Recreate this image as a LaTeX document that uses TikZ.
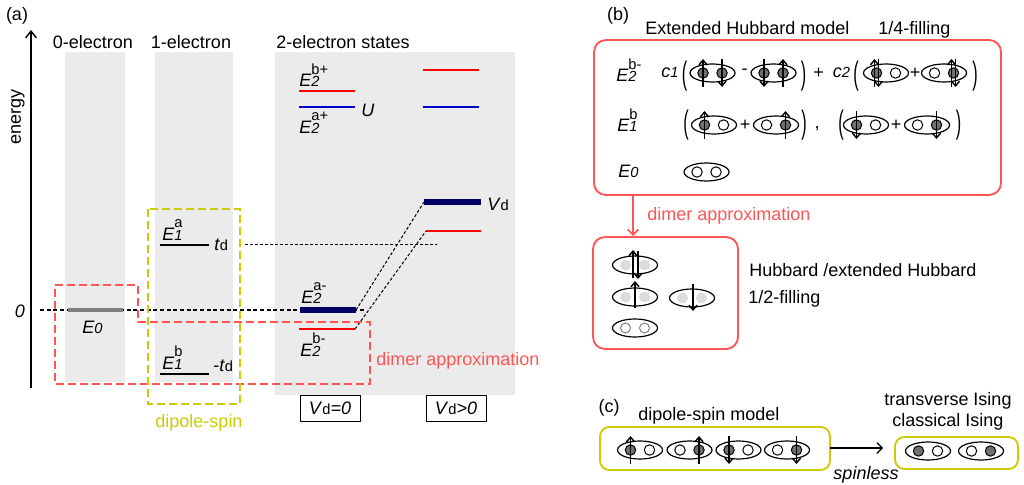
\documentclass[tikz,border=0pt]{standalone}
\usepackage{fontspec}
\usepackage{graphicx}
\setmainfont{Liberation Sans}
\usetikzlibrary{arrows.meta}

\definecolor{bandgray}{RGB}{235,235,235}
\definecolor{dimred}{RGB}{255,85,85}
\definecolor{dipyellow}{RGB}{204,204,0}
\definecolor{levred}{RGB}{255,0,0}
\definecolor{levblue}{RGB}{0,0,200}
\definecolor{levnavy}{RGB}{0,0,100}
\definecolor{dotgray}{RGB}{112,112,112}
\definecolor{palegray}{RGB}{220,220,220}

\newcommand{\smallfs}{\fontsize{11}{13}\selectfont}
\newcommand{\lv}[3]{\textit{#1}\rlap{\smallfs\itshape #2}\raisebox{9.5pt}{\smallfs #3}}
\newcommand{\sd}[1]{\textit{#1}{\smallfs d}}
\newcommand{\bigpar}[1]{\scalebox{0.9}[1.8]{#1}}

\newcommand{\siteE}[1]{\draw[line width=0.75pt,fill=white] (#1,0) circle (5.2);}
\newcommand{\siteF}[1]{\draw[line width=0.75pt,fill=dotgray] (#1,0) circle (5.2);}
\newcommand{\siteU}[1]{\siteF{#1}\draw[spin] (#1,14) -- (#1,-14);}
\newcommand{\siteD}[1]{\siteF{#1}\draw[spin] (#1,-14) -- (#1,14);}
\newcommand{\siteUD}[1]{\siteF{#1}\draw[spin] (#1-2,14) -- (#1-2,-14);\draw[spin] (#1+2,-14) -- (#1+2,14);}
\newcommand{\siteP}[1]{\fill[palegray] (#1,0) circle (5.5);}
\newcommand{\siteO}[1]{\draw[gray,line width=0.75pt,fill=white] (#1,0) circle (5);}
\newcommand{\dimer}[3]{\begin{scope}[shift={(#1)}]
\draw[pairline,fill=white] (0,0) ellipse (22.5 and 9);
#2{-9.5}#3{9.5}
\end{scope}}

\begin{document}
\begin{tikzpicture}[x=0.75pt,y=-0.75pt,font=\fontsize{13.5}{16}\selectfont,
  every node/.style={inner sep=0pt},
  band/.style={fill=bandgray},
  lvl/.style={line width=1.5pt},
  bar/.style={line width=4pt},
  guide/.style={line width=0.75pt,dash pattern=on 2.25pt off 1.5pt},
  zeroline/.style={line width=1.5pt,dash pattern=on 3pt off 2pt},
  dimbox/.style={draw=dimred,line width=1.5pt,dash pattern=on 6pt off 3pt},
  dipbox/.style={draw=dipyellow,line width=1.5pt,dash pattern=on 6pt off 3pt},
  vbox/.style={draw,line width=0.75pt,minimum width=45pt,minimum height=20pt},
  pairline/.style={line width=0.9pt},
  spin/.style={line width=1.1pt,-{Straight Barb[length=3.5pt,width=6pt]}},
  redbox/.style={draw=dimred,line width=1.4pt,rounded corners=9pt},
  ylwbox/.style={draw=dipyellow,line width=1.4pt,rounded corners=7pt}]
\useasboundingbox (0,0) rectangle (1024,485);

\node[anchor=base] (laba) at (17,21) {(a)};
\fill[band] (65,52) rectangle (125,382);
\fill[band] (155,52) rectangle (233,382);
\fill[band] (275,52) rectangle (515,395);
\node[anchor=base] (ttl0) at (93,49) {0-electron};
\node[anchor=base] (ttl1) at (191,49) {1-electron};
\node[anchor=base] (ttl2) at (343,49) {2-electron states};
\coordinate (axbot) at (31,388);
\coordinate (axtop) at (31,30);
\draw[line width=1.1pt,-{Straight Barb[length=5pt,width=8pt]}] (axbot) -- (axtop);
\node[rotate=90] (energy) at (18,117) {energy};
\node[anchor=base] (zero) at (20,317) {\textit{0}};

\coordinate (z0) at (40,310);
\coordinate (z1) at (364,310);
\draw[zeroline] (z0) -- (z1);
\coordinate (e0l) at (68,310);
\coordinate (e0r) at (123,310);
\draw[line width=3pt,gray] (e0l) -- (e0r);
\coordinate (a1l) at (160,245);
\coordinate (a1r) at (209,245);
\coordinate (b1l) at (160,374);
\coordinate (b1r) at (209,374);
\draw[lvl] (a1l) -- (a1r);
\draw[lvl] (b1l) -- (b1r);
\coordinate (tdl) at (245,244);
\coordinate (tdr) at (437,244);
\draw[guide] (tdl) -- (tdr);

\coordinate (bpl) at (299,91);
\coordinate (bpr) at (355,91);
\coordinate (apl) at (299,107);
\coordinate (apr) at (355,107);
\coordinate (aml) at (300,310);
\coordinate (amr) at (356,310);
\coordinate (bml) at (299,329);
\coordinate (bmr) at (355,329);
\draw[lvl,levred] (bpl) -- (bpr);
\draw[lvl,levblue] (apl) -- (apr);
\draw[bar,levnavy] (aml) -- (amr);
\draw[lvl,levred] (bml) -- (bmr);
\coordinate (bpl') at (423,70);
\coordinate (bpr') at (479,70);
\coordinate (apl') at (423,107);
\coordinate (apr') at (479,107);
\coordinate (aml') at (424,202);
\coordinate (amr') at (481,202);
\coordinate (bml') at (426,231);
\coordinate (bmr') at (481,231);
\draw[lvl,levred] (bpl') -- (bpr');
\draw[lvl,levblue] (apl') -- (apr');
\draw[bar,levnavy] (aml') -- (amr');
\draw[lvl,levred] (bml') -- (bmr');
\draw[guide] (amr) -- (aml');
\draw[guide] (bmr) -- (bml');

\node[anchor=base west] (lb2p) at (299,87) {\lv{E}{2}{b+}};
\node[anchor=base west] (la2p) at (299,133) {\lv{E}{2}{a+}};
\node[anchor=base west] (lU) at (361,117) {\textit{U}};
\node[anchor=base west] (la2m) at (301,303) {\lv{E}{2}{a-}};
\node[anchor=base west] (lb2m) at (300,356) {\lv{E}{2}{b-}};
\node[anchor=base west] (lvd) at (487,210) {\sd{V}};
\node[anchor=base west] (la1) at (162,240) {\lv{E}{1}{a}};
\node[anchor=base west] (lb1) at (162,369) {\lv{E}{1}{b}};
\node[anchor=base west] (lE0) at (82,333) {\lv{E}{0}{}};
\node[anchor=base west] (ltd) at (214,250) {\sd{t}};
\node[anchor=base west] (lmtd) at (213,371) {-\sd{t}};

\draw[dimbox] (55,285) -- (138,285) -- (138,322) -- (370,322) -- (370,384) -- (55,384) -- cycle;
\draw[dipbox] (148,209) rectangle (240,404);
\node[text=dipyellow,anchor=base] (ldip) at (199,427) {dipole-spin};
\node[text=dimred,anchor=base west] (ldimA) at (376,365) {dimer approximation};
\node[vbox] (vd0) at (330,408.5) {\sd{V}\textit{=0}};
\node[vbox] (vd1) at (456,408.5) {\sd{V}\textit{>0}};

\node[anchor=base] (labb) at (618,21) {(b)};
\node[anchor=base west] (ehm) at (645,35) {Extended Hubbard model};
\node[anchor=base west] (quarter) at (878,35) {1/4-filling};
\draw[redbox] (594,40) rectangle (1001,195);
\node[anchor=base west] (bb2m) at (616,82) {\lv{E}{2}{b-}};
\node[anchor=base west] (bb1) at (617,132) {\lv{E}{1}{b}};
\node[anchor=base west] (bE0) at (618,177) {\lv{E}{0}{}};

\node[anchor=base] (c1) at (670,78) {\textit{c}{\smallfs\itshape 1}};
\node (p1l) at (684.5,76) {\bigpar{(}};
\dimer{712.5,73}{\siteU}{\siteD}
\node (m1) at (744.5,72) {-};
\dimer{773.5,73}{\siteD}{\siteU}
\node (p1r) at (803.5,76) {\bigpar{)}};
\node (pl1) at (818.5,73) {+};
\node[anchor=base] (c2) at (841.5,78) {\textit{c}{\smallfs\itshape 2}};
\node (p2l) at (856,76) {\bigpar{(}};
\dimer{886,73}{\siteUD}{\siteE}
\node (pl2) at (915,73) {+};
\dimer{944,73}{\siteE}{\siteUD}
\node (p2r) at (975,76) {\bigpar{)}};

\node (p3l) at (686,125) {\bigpar{(}};
\dimer{714,125}{\siteU}{\siteE}
\node (pl3) at (745,125) {+};
\dimer{776,125}{\siteE}{\siteU}
\node (p3r) at (804,125) {\bigpar{)}};
\node (cm) at (817,129) {,};
\node (p4l) at (841,125) {\bigpar{(}};
\dimer{866,125}{\siteD}{\siteE}
\node (pl4) at (896,125) {+};
\dimer{927,125}{\siteE}{\siteD}
\node (p4r) at (958.5,125) {\bigpar{)}};
\dimer{706.5,172}{\siteE}{\siteE}

\coordinate (extbot) at (633,195);
\coordinate (halftop) at (633,236);
\draw[dimred,line width=1.2pt,-{Straight Barb[length=4pt,width=8pt]}] (extbot) -- (halftop);
\node[text=dimred,anchor=base west] (ldimB) at (647,220) {dimer approximation};
\draw[redbox] (593,237) rectangle (738,349);
\node[anchor=base west] (hub) at (749,276) {Hubbard /extended Hubbard};
\node[anchor=base west] (half) at (748,303) {1/2-filling};
\dimer{635,265}{\siteP}{\siteP}
\draw[spin] (633,278) -- (633,250);
\draw[spin] (638,251) -- (638,279);
\dimer{635,297}{\siteP}{\siteP}
\draw[spin] (635,308) -- (635,281);
\dimer{692,298}{\siteP}{\siteP}
\draw[spin] (693,284) -- (693,311);
\dimer{635,328}{\siteO}{\siteO}

\node[anchor=base] (labc) at (609,412) {(c)};
\node[anchor=base west] (dsm) at (638,420) {dipole-spin model};
\draw[ylwbox] (600,427) rectangle (830,470);
\dimer{640,450}{\siteU}{\siteE}
\dimer{689.5,450}{\siteE}{\siteU}
\dimer{738.5,450}{\siteD}{\siteE}
\dimer{787,450}{\siteE}{\siteD}
\coordinate (dsr) at (830,448);
\coordinate (isl) at (883,448);
\draw[line width=0.9pt,-{Straight Barb[length=4pt,width=8pt]}] (dsr) -- (isl);
\node[anchor=base] (spl) at (866,479) {\textit{spinless}};
\node[anchor=base] (tis) at (948,405) {transverse Ising};
\node[anchor=base] (cis) at (948,426) {classical Ising};
\draw[ylwbox] (895,437) rectangle (1018,469);
\dimer{928,451}{\siteF}{\siteE}
\dimer{981,451}{\siteE}{\siteF}
\end{tikzpicture}
\end{document}
